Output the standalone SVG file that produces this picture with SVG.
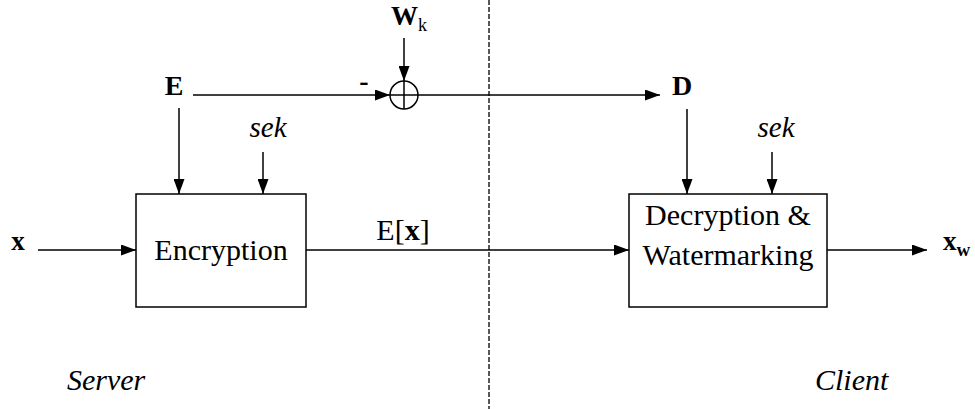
<svg xmlns="http://www.w3.org/2000/svg" width="975" height="409" viewBox="0 0 975 409">
<style>
.ln{stroke:#000;stroke-width:1.5;fill:none}
.box{stroke:#000;stroke-width:1.5;fill:#fff}
.t{font-family:"Liberation Serif","Times New Roman",serif;fill:#000}
.b{font-weight:bold}
.i{font-style:italic}
</style>
<defs>
<marker id="ah" markerUnits="userSpaceOnUse" markerWidth="15" markerHeight="11" refX="15" refY="5.5" orient="auto">
<path d="M0,0 L15,5.5 L0,11 z" fill="#000"/>
</marker>
</defs>
<line x1="489" y1="0" x2="489" y2="409" stroke="#000" stroke-width="1.3" stroke-dasharray="5,2"/>
<g id="connectors">
<path class="ln" d="M193,95 L390,95" marker-end="url(#ah)"/>
<path class="ln" d="M404,38 L404,81" marker-end="url(#ah)"/>
<path class="ln" d="M418,95 L660,95" marker-end="url(#ah)"/>
<path class="ln" d="M179,108 L179,194" marker-end="url(#ah)"/>
<path class="ln" d="M263,152 L263,194" marker-end="url(#ah)"/>
<path class="ln" d="M38,250 L136,250" marker-end="url(#ah)"/>
<path class="ln" d="M306,250 L629,250" marker-end="url(#ah)"/>
<path class="ln" d="M687,109 L687,194" marker-end="url(#ah)"/>
<path class="ln" d="M772,152 L772,194" marker-end="url(#ah)"/>
<path class="ln" d="M827,250 L927,250" marker-end="url(#ah)"/>
<text class="t" x="403" y="240" font-size="30" text-anchor="middle">E[<tspan class="b">x</tspan>]</text>
<text class="t b" x="364" y="90" font-size="28" text-anchor="middle">-</text>
</g>
<g id="sum">
<circle cx="404" cy="95" r="14" class="ln"/>
<path class="ln" d="M404,81 L404,109 M390,95 L418,95"/>
</g>
<g id="E"><text class="t b" x="174" y="95" font-size="28" text-anchor="middle">E</text></g>
<g id="Wk"><text class="t b" x="391" y="25" font-size="27">W<tspan font-weight="normal" font-size="18" dy="6">k</tspan></text></g>
<g id="sek1"><text class="t i" x="268" y="137" font-size="29" text-anchor="middle">sek</text></g>
<g id="x"><text class="t b" x="18" y="250" font-size="27" text-anchor="middle">x</text></g>
<g id="encryption">
<rect class="box" x="136" y="194" width="170" height="113"/>
<text class="t" x="221" y="260" font-size="30" text-anchor="middle">Encryption</text>
</g>
<g id="D"><text class="t b" x="682" y="95" font-size="28" text-anchor="middle">D</text></g>
<g id="sek2"><text class="t i" x="776" y="137" font-size="29" text-anchor="middle">sek</text></g>
<g id="decryption">
<rect class="box" x="629" y="194" width="198" height="113"/>
<text class="t" x="728" y="225" font-size="30" text-anchor="middle">Decryption &amp;</text>
<text class="t" x="728" y="265" font-size="30" text-anchor="middle">Watermarking</text>
</g>
<g id="xw"><text class="t b" x="943" y="250" font-size="27">x<tspan font-size="19" dy="6">w</tspan></text></g>
<g id="server"><text class="t i" x="67" y="390" font-size="30">Server</text></g>
<g id="client"><text class="t i" x="815" y="390" font-size="30">Client</text></g>
</svg>
